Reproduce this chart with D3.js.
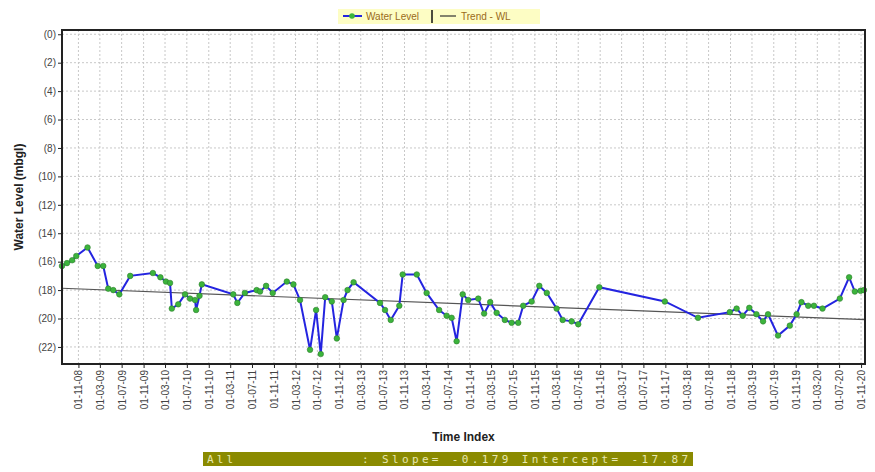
<!DOCTYPE html>
<html>
<head>
<meta charset="utf-8">
<script src="https://cdn.jsdelivr.net/npm/d3@7"></script>
<style>
  body { margin: 0; background: #fff; }
  svg { font-family: Arial, "Liberation Sans", sans-serif; }
  .grid line { stroke: #c8c8c8; stroke-dasharray: 2,2; }
  .axis text { fill: #444; font-size: 10px; }
  .axis path, .axis line { stroke: #222; }
</style>
</head>
<body>
<div id="chart"></div>
<script>
// observation dates and water levels (mbgl, shown as negative depth)
const dates = [
  "2008-08-01","2008-08-29","2008-09-27","2008-10-20","2008-12-22","2009-02-17","2009-03-20","2009-04-17",
  "2009-05-15","2009-06-18","2009-08-18","2009-12-23","2010-02-03","2010-03-06","2010-03-29","2010-04-08",
  "2010-05-14","2010-06-21","2010-07-19","2010-08-16","2010-08-22","2010-09-10","2010-09-23","2011-03-18",
  "2011-04-10","2011-05-22","2011-07-27","2011-08-15","2011-09-18","2011-10-25","2012-01-12","2012-02-18",
  "2012-03-26","2012-05-21","2012-06-24","2012-07-20","2012-08-14","2012-09-20","2012-10-18","2012-11-25",
  "2012-12-17","2013-01-20","2013-06-17","2013-07-15","2013-08-16","2013-10-03","2013-10-22","2014-01-09",
  "2014-03-05","2014-05-14","2014-06-25","2014-07-23","2014-08-20","2014-09-23","2014-10-24","2014-12-19",
  "2015-01-21","2015-02-24","2015-04-01","2015-05-17","2015-06-24","2015-07-31","2015-08-28","2015-10-14",
  "2015-11-26","2016-01-07","2016-03-02","2016-04-05","2016-05-25","2016-07-01","2016-10-27","2017-10-29",
  "2018-05-03","2018-10-28","2018-12-05","2019-01-08","2019-02-14","2019-03-26","2019-05-02","2019-05-30",
  "2019-07-25","2019-09-29","2019-11-06","2019-12-03","2020-01-10","2020-02-11","2020-03-30","2020-07-05",
  "2020-08-26","2020-09-27","2020-10-29","2020-11-17"
];
const levels = [
  -16.3,-16.1,-15.9,-15.6,-15.0,-16.3,-16.3,-17.9,
  -18.0,-18.3,-17.0,-16.8,-17.1,-17.4,-17.5,-19.3,
  -19.0,-18.3,-18.6,-18.7,-19.4,-18.4,-17.6,-18.3,
  -18.9,-18.2,-18.0,-18.1,-17.7,-18.2,-17.4,-17.6,
  -18.7,-22.2,-19.4,-22.5,-18.5,-18.8,-21.4,-18.7,
  -18.0,-17.45,-18.9,-19.4,-20.1,-19.1,-16.9,-16.9,
  -18.2,-19.4,-19.8,-19.95,-21.6,-18.3,-18.7,-18.6,
  -19.65,-18.85,-19.6,-20.1,-20.3,-20.3,-19.1,-18.8,
  -17.7,-18.2,-19.3,-20.1,-20.2,-20.4,-17.8,-18.8,
  -19.95,-19.55,-19.3,-19.8,-19.25,-19.7,-20.2,-19.7,
  -21.2,-20.5,-19.7,-18.85,-19.1,-19.1,-19.3,-18.6,
  -17.1,-18.1,-18.05,-18.0
];
// regression shown in footer (per year from first observation)
const slope = -0.179;
const intercept = -17.87;
const yTicks = [0, -2, -4, -6, -8, -10, -12, -14, -16, -18, -20, -22];

const width = 875, height = 472;
const margin = { top: 30, right: 10, bottom: 108, left: 62 };
const parse = d3.timeParse("%Y-%m-%d");
const data = dates.map((d, i) => ({ date: parse(d), value: levels[i] }));

const svg = d3.select("#chart").append("svg")
  .attr("width", width)
  .attr("height", height);

const x = d3.scaleTime()
  .domain([parse("2008-08-01"), parse("2020-11-23")])
  .range([margin.left, width - margin.right]);
const y = d3.scaleLinear()
  .domain([0.3, -23.2])
  .range([margin.top, height - margin.bottom]);

// ticks every 4 months starting Nov 2008
const xTicks = d3.timeMonth.range(parse("2008-11-01"), parse("2020-11-02"), 4);

// grid
svg.append("g").attr("class", "grid")
  .selectAll("line").data(xTicks).join("line")
  .attr("x1", d => x(d)).attr("x2", d => x(d))
  .attr("y1", margin.top).attr("y2", height - margin.bottom);
svg.append("g").attr("class", "grid")
  .selectAll("line").data(yTicks).join("line")
  .attr("x1", margin.left).attr("x2", width - margin.right)
  .attr("y1", d => y(d)).attr("y2", d => y(d));

// trend line
const t0 = data[0].date;
const yrs = d => (d - t0) / (365.25 * 864e5);
const [d0, d1] = x.domain();
svg.append("line")
  .attr("x1", x(d0)).attr("y1", y(intercept + slope * yrs(d0)))
  .attr("x2", x(d1)).attr("y2", y(intercept + slope * yrs(d1)))
  .attr("stroke", "#555").attr("stroke-width", 1.2);

// water level
svg.append("path").datum(data)
  .attr("fill", "none")
  .attr("stroke", "#2424e0")
  .attr("stroke-width", 2)
  .attr("d", d3.line().x(d => x(d.date)).y(d => y(d.value)));
svg.append("g").selectAll("circle").data(data).join("circle")
  .attr("cx", d => x(d.date)).attr("cy", d => y(d.value))
  .attr("r", 2.8)
  .attr("fill", "#3cb43c")
  .attr("stroke", "#2e7d2e").attr("stroke-width", 0.6);

// axes
svg.append("g").attr("class", "axis")
  .attr("transform", `translate(${margin.left},0)`)
  .call(d3.axisLeft(y).tickValues(yTicks).tickSize(4).tickPadding(2)
    .tickFormat(d => "(" + Math.abs(d) + ")"))
  .call(g => g.select(".domain").remove());

svg.append("g").attr("class", "axis")
  .attr("transform", `translate(0,${height - margin.bottom})`)
  .call(d3.axisBottom(x).tickValues(xTicks).tickSize(4)
    .tickFormat(d3.timeFormat("%d-%m-%y")))
  .call(g => g.select(".domain").remove())
  .selectAll("text")
  .attr("transform", "rotate(-90)")
  .attr("text-anchor", "end")
  .attr("x", -6).attr("y", 0).attr("dy", "0.35em");

// frame
svg.append("rect")
  .attr("x", margin.left).attr("y", margin.top)
  .attr("width", width - margin.left - margin.right)
  .attr("height", height - margin.top - margin.bottom)
  .attr("fill", "none").attr("stroke", "#222").attr("stroke-width", 2);

// axis titles
svg.append("text")
  .attr("x", (margin.left + width - margin.right) / 2).attr("y", 441)
  .attr("text-anchor", "middle")
  .style("font-size", "12px").style("font-weight", "bold").attr("fill", "#222")
  .text("Time Index");
svg.append("text")
  .attr("transform", `translate(23,${(margin.top + height - margin.bottom) / 2}) rotate(-90)`)
  .attr("text-anchor", "middle")
  .style("font-size", "12px").style("font-weight", "bold").attr("fill", "#222")
  .text("Water Level (mbgl)");

// legend
const lg = svg.append("g");
lg.append("rect").attr("x", 338).attr("y", 9).attr("width", 202).attr("height", 15)
  .attr("fill", "#fdfdc4");
lg.append("line").attr("x1", 343).attr("x2", 362).attr("y1", 16).attr("y2", 16)
  .attr("stroke", "#2424e0").attr("stroke-width", 2);
lg.append("circle").attr("cx", 352).attr("cy", 16).attr("r", 2.8).attr("fill", "#3cb43c");
lg.append("text").attr("x", 366).attr("y", 20).style("font-size", "10px").attr("fill", "#9a6a1a")
  .text("Water Level");
lg.append("line").attr("x1", 432).attr("x2", 432).attr("y1", 10).attr("y2", 23)
  .attr("stroke", "#111").attr("stroke-width", 1.5);
lg.append("line").attr("x1", 440).attr("x2", 456).attr("y1", 16).attr("y2", 16)
  .attr("stroke", "#333").attr("stroke-width", 1.2);
lg.append("text").attr("x", 461).attr("y", 20).style("font-size", "10px").attr("fill", "#9a6a1a")
  .text("Trend - WL");

// regression footer
svg.append("rect").attr("x", 203).attr("y", 452).attr("width", 490).attr("height", 14)
  .attr("fill", "#8a8a00");
svg.append("text").attr("x", 207).attr("y", 463)
  .style("font-family", "'DejaVu Sans Mono', monospace").style("font-size", "11px")
  .attr("fill", "#e8e8b0").attr("textLength", 26).text("All");
svg.append("text").attr("x", 362).attr("y", 463)
  .style("font-family", "'DejaVu Sans Mono', monospace").style("font-size", "11px")
  .attr("fill", "#e8e8b0").attr("textLength", 326)
  .text(`: Slope= ${slope}  Intercept= ${intercept}`);
</script>
</body>
</html>
